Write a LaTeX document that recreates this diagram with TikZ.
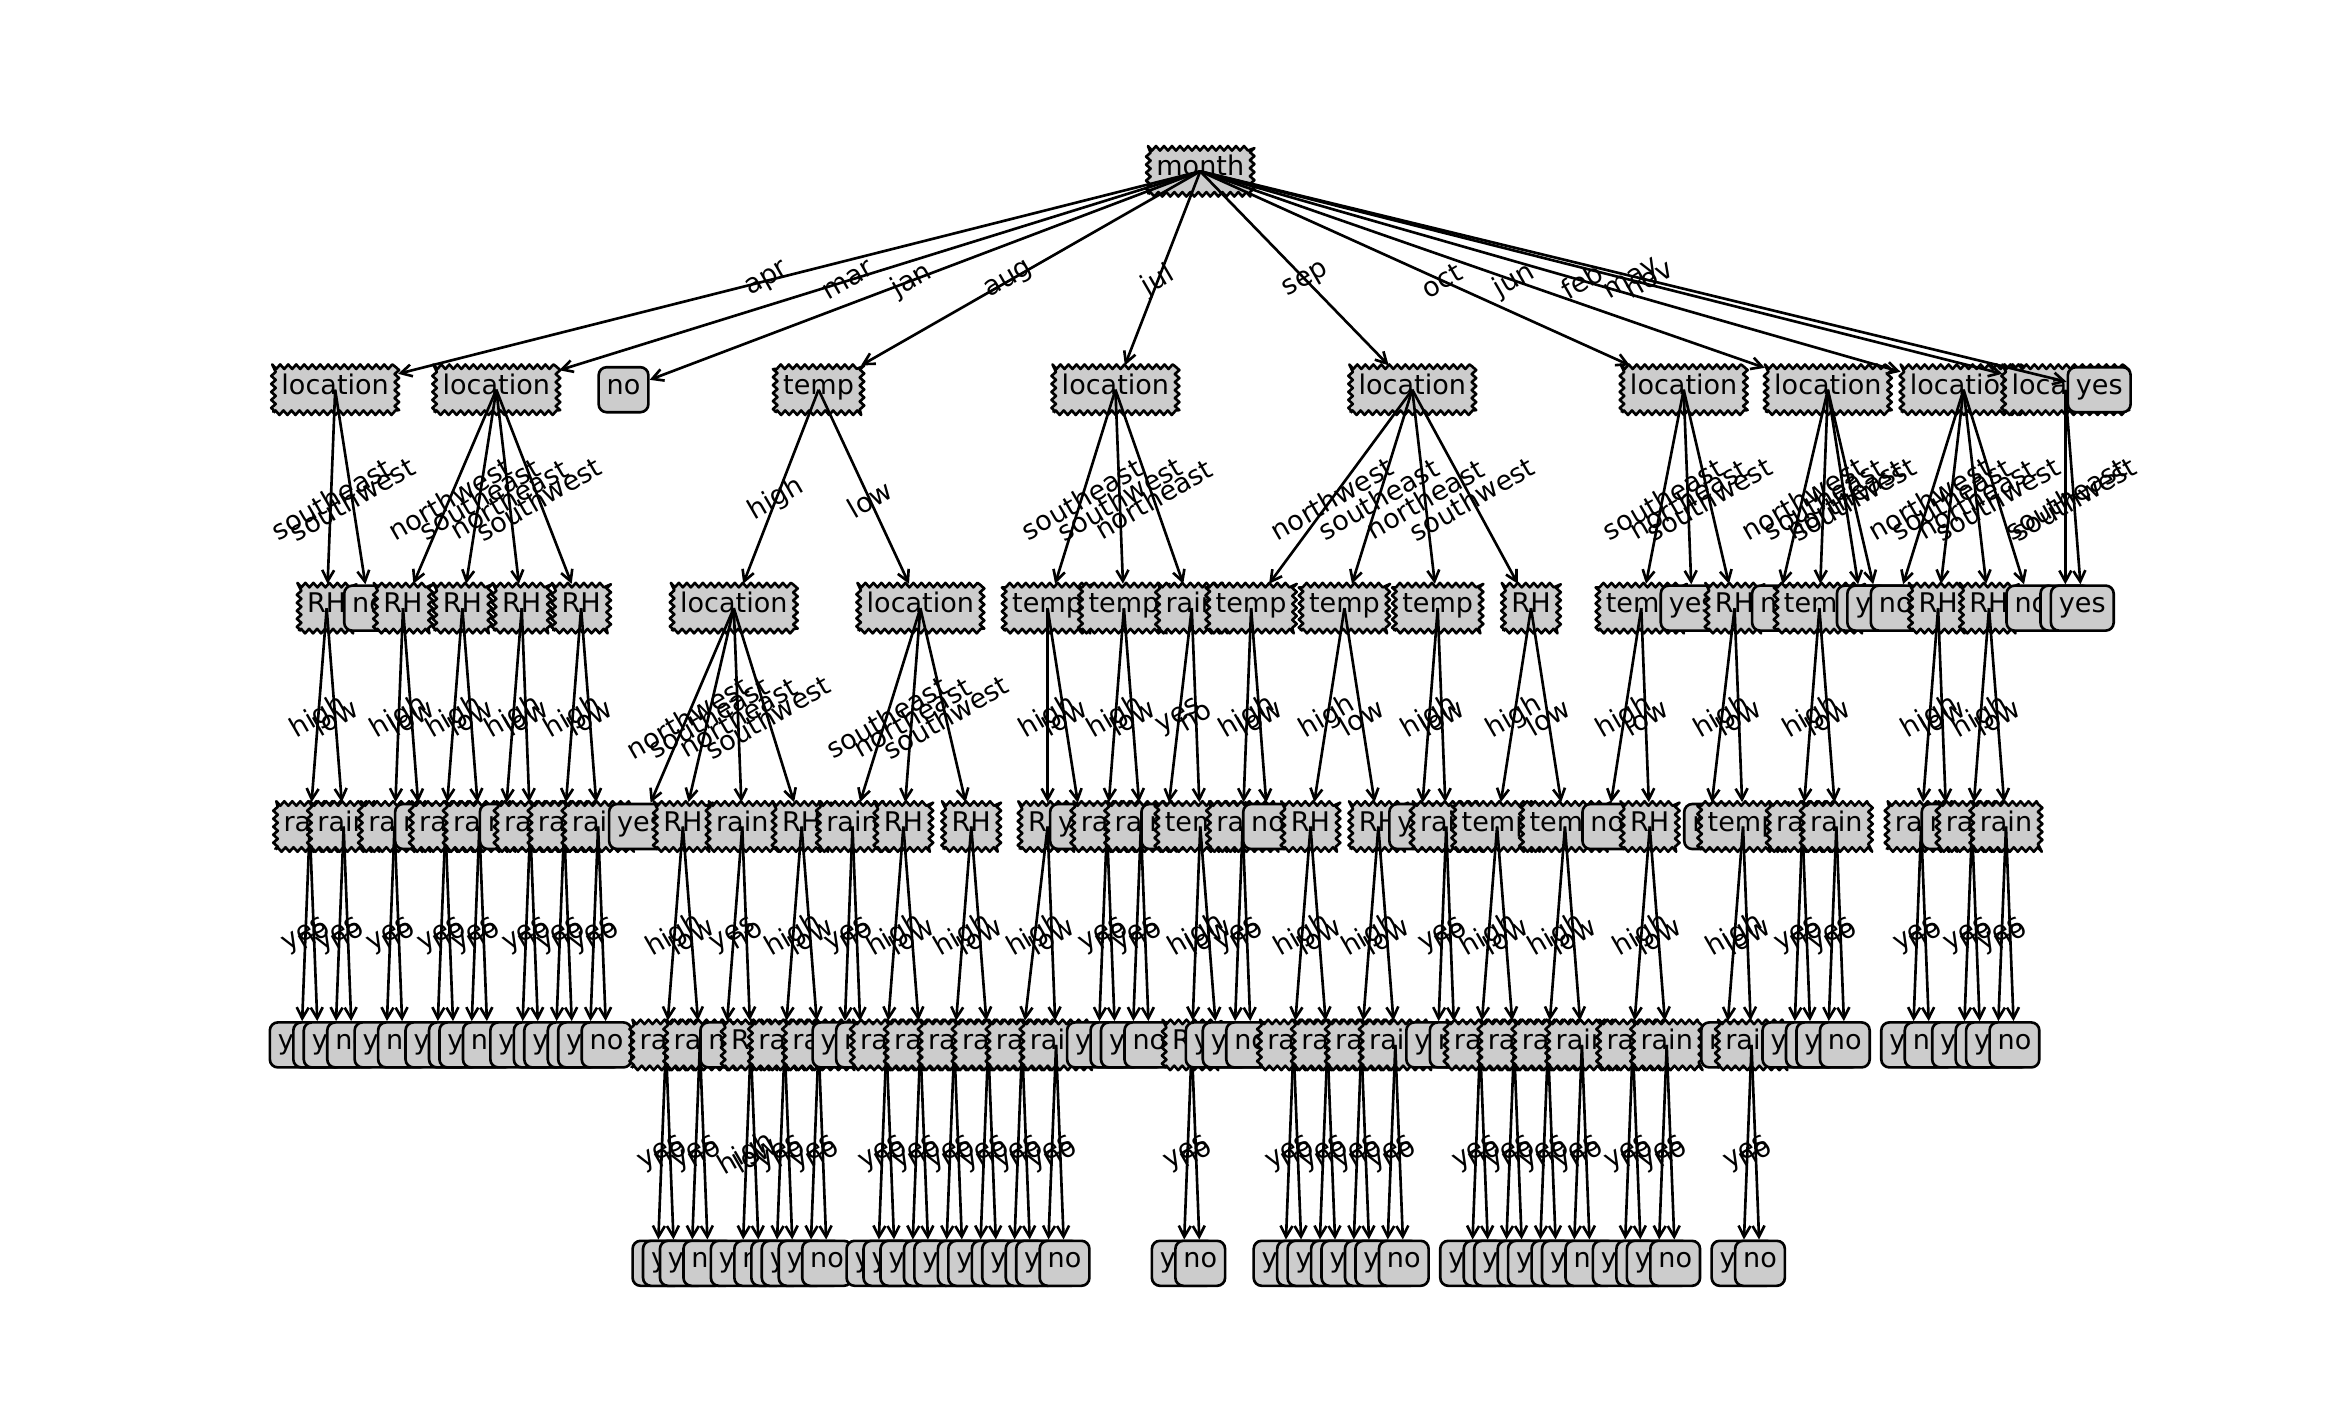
\documentclass[tikz,border=0pt]{standalone}
\usepackage{fontspec}
\setmainfont{DejaVu Sans}
\usetikzlibrary{arrows.meta,decorations.pathmorphing}
\newcommand{\treefont}{\fontsize{15.4pt}{18pt}\selectfont}
\tikzset{
  dec/.style={draw, fill=black!20, line width=1.5pt, line join=round, font=\treefont,
    inner xsep=1.6mm, inner ysep=0pt, minimum height=9.2mm,
    text height=0.76em, text depth=0.24em,
    decorate, decoration={zigzag, segment length=1.6mm, amplitude=0.45mm}},
  leaf/.style={draw, fill=black!20, line width=1.5pt, rounded corners=1.6mm,
    font=\treefont, inner xsep=1.6mm, inner ysep=0pt, minimum height=9mm,
    text height=0.76em, text depth=0.24em},
  link/.style={{Straight Barb[length=2.2mm,width=2.4mm]}-, line width=1.5pt},
  elabel/.style={font=\treefont, rotate=30, inner sep=0pt}
}
% parent, child, label
\newcommand{\branch}[3]{%
  \draw[link] (#2) -- (#1.center);
  \path (#1.center) -- node[elabel]{#3} (#2.center);}
% name, parent, x, row, text, label
\newcommand{\dnode}[6]{\node[dec] (#1) at (#3,#4) {#5}; \branch{#2}{#1}{#6}}
\newcommand{\lnode}[6]{\node[leaf] (#1) at (#3,#4) {#5}; \branch{#2}{#1}{#6}}
% rain node with two leaves: name, parent, x, row, label, yes-leaf, no-leaf
\newcommand{\rainpair}[7]{%
  \dnode{#1}{#2}{#3}{#4}{rain}{#5}%
  \pgfmathsetmacro{\leftx}{#3-0.5}\pgfmathsetmacro{\rightx}{#3+0.5}%
  \pgfmathtruncatemacro{\lowy}{#4+1}%
  \lnode{#1y}{#1}{\leftx}{\lowy}{#6}{yes}%
  \lnode{#1n}{#1}{\rightx}{\lowy}{#7}{no}}

\begin{document}
\begin{tikzpicture}[x=0.33925cm, y=-4.368cm]
\useasboundingbox (-5.855cm,3.426cm) rectangle (40.985cm,-24.934cm);

\node[dec] (m) at (53.5,0) {month};

% apr
\dnode{ap}{m}{2.5}{1}{location}{apr}
\dnode{apa}{ap}{2}{2}{RH}{southeast}
\rainpair{apaa}{apa}{1}{3}{high}{yes}{no}
\rainpair{apab}{apa}{3}{3}{low}{yes}{no}
\lnode{apb}{ap}{4.5}{2}{no}{southwest}

% mar
\dnode{mr}{m}{12}{1}{location}{mar}
\dnode{mra}{mr}{6.5}{2}{RH}{northwest}
\rainpair{mraa}{mra}{6}{3}{high}{yes}{no}
\lnode{mrab}{mra}{7.5}{3}{no}{low}
\dnode{mrb}{mr}{10}{2}{RH}{southeast}
\rainpair{mrba}{mrb}{9}{3}{high}{yes}{no}
\rainpair{mrbb}{mrb}{11}{3}{low}{yes}{no}
\dnode{mrc}{mr}{13.5}{2}{RH}{northeast}
\lnode{mrca}{mrc}{12.5}{3}{no}{high}
\rainpair{mrcb}{mrc}{14}{3}{low}{yes}{no}
\dnode{mrd}{mr}{17}{2}{RH}{southwest}
\rainpair{mrda}{mrd}{16}{3}{high}{yes}{no}
\rainpair{mrdb}{mrd}{18}{3}{low}{yes}{no}

% jan
\lnode{jn}{m}{19.5}{1}{no}{jan}

% aug
\dnode{au}{m}{31}{1}{temp}{aug}
\dnode{aua}{au}{26}{2}{location}{high}
\lnode{auaa}{aua}{20.5}{3}{yes}{northwest}
\dnode{auab}{aua}{23}{3}{RH}{southeast}
\rainpair{auaba}{auab}{22}{4}{high}{no}{yes}
\rainpair{auabb}{auab}{24}{4}{low}{yes}{no}
\dnode{auac}{aua}{26.5}{3}{rain}{northeast}
\lnode{auaca}{auac}{25.5}{4}{no}{yes}
\dnode{auacb}{auac}{27}{4}{RH}{no}
\lnode{auacba}{auacb}{26.5}{5}{yes}{high}
\lnode{auacbb}{auacb}{27.5}{5}{no}{low}
\dnode{auad}{aua}{30}{3}{RH}{southwest}
\rainpair{auada}{auad}{29}{4}{high}{no}{yes}
\rainpair{auadb}{auad}{31}{4}{low}{yes}{no}
\dnode{aub}{au}{37}{2}{location}{low}
\rainpair{auba}{aub}{33}{3}{southeast}{yes}{no}
\dnode{aubb}{aub}{36}{3}{RH}{northeast}
\rainpair{aubba}{aubb}{35}{4}{high}{yes}{yes}
\rainpair{aubbb}{aubb}{37}{4}{low}{yes}{no}
\dnode{aubc}{aub}{40}{3}{RH}{southwest}
\rainpair{aubca}{aubc}{39}{4}{high}{yes}{no}
\rainpair{aubcb}{aubc}{41}{4}{low}{yes}{no}

% jul
\dnode{jl}{m}{48.5}{1}{location}{jul}
\dnode{jla}{jl}{44.5}{2}{temp}{southeast}
\dnode{jlaa}{jla}{44.5}{3}{RH}{high}
\rainpair{jlaaa}{jlaa}{43}{4}{high}{yes}{no}
\rainpair{jlaab}{jlaa}{45}{4}{low}{yes}{no}
\lnode{jlab}{jla}{46.5}{3}{yes}{low}
\dnode{jlb}{jl}{49}{2}{temp}{southwest}
\rainpair{jlba}{jlb}{48}{3}{high}{yes}{no}
\rainpair{jlbb}{jlb}{50}{3}{low}{yes}{no}
\dnode{jlc}{jl}{53}{2}{rain}{northeast}
\lnode{jlca}{jlc}{51.5}{3}{no}{yes}
\dnode{jlcb}{jlc}{53.5}{3}{temp}{no}
\dnode{jlcba}{jlcb}{53}{4}{RH}{high}
\lnode{jlcbaa}{jlcba}{52.5}{5}{yes}{yes}
\lnode{jlcbab}{jlcba}{53.5}{5}{no}{no}
\lnode{jlcbb}{jlcb}{54.5}{4}{yes}{low}

% sep
\dnode{sp}{m}{66}{1}{location}{sep}
\dnode{spa}{sp}{56.5}{2}{temp}{northwest}
\rainpair{spaa}{spa}{56}{3}{high}{yes}{no}
\lnode{spab}{spa}{57.5}{3}{no}{low}
\dnode{spb}{sp}{62}{2}{temp}{southeast}
\dnode{spba}{spb}{60}{3}{RH}{high}
\rainpair{spbaa}{spba}{59}{4}{high}{yes}{no}
\rainpair{spbab}{spba}{61}{4}{low}{yes}{no}
\dnode{spbb}{spb}{64}{3}{RH}{low}
\rainpair{spbba}{spbb}{63}{4}{high}{yes}{no}
\rainpair{spbbb}{spbb}{65}{4}{low}{yes}{no}
\dnode{spc}{sp}{67.5}{2}{temp}{northeast}
\lnode{spca}{spc}{66.5}{3}{yes}{high}
\rainpair{spcb}{spc}{68}{3}{low}{yes}{no}
\dnode{spd}{sp}{73}{2}{RH}{southwest}
\dnode{spda}{spd}{71}{3}{temp}{high}
\rainpair{spdaa}{spda}{70}{4}{high}{yes}{no}
\rainpair{spdab}{spda}{72}{4}{low}{yes}{no}
\dnode{spdb}{spd}{75}{3}{temp}{low}
\rainpair{spdba}{spdb}{74}{4}{high}{yes}{no}
\rainpair{spdbb}{spdb}{76}{4}{low}{yes}{no}

% oct
\dnode{oc}{m}{82}{1}{location}{oct}
\dnode{oca}{oc}{79.5}{2}{temp}{southeast}
\lnode{ocaa}{oca}{77.5}{3}{no}{high}
\dnode{ocab}{oca}{80}{3}{RH}{low}
\rainpair{ocaba}{ocab}{79}{4}{high}{yes}{no}
\rainpair{ocabb}{ocab}{81}{4}{low}{yes}{no}
\lnode{ocb}{oc}{82.5}{2}{yes}{northeast}
\dnode{occ}{oc}{85}{2}{RH}{southwest}
\lnode{occa}{occ}{83.5}{3}{no}{high}
\dnode{occb}{occ}{85.5}{3}{temp}{low}
\lnode{occba}{occb}{84.5}{4}{no}{high}
\rainpair{occbb}{occb}{86}{4}{low}{yes}{no}

% jun
\dnode{ju}{m}{90.5}{1}{location}{jun}
\lnode{jua}{ju}{87.5}{2}{no}{northwest}
\dnode{jub}{ju}{90}{2}{temp}{southeast}
\rainpair{juba}{jub}{89}{3}{high}{yes}{no}
\rainpair{jubb}{jub}{91}{3}{low}{yes}{no}
\lnode{juc}{ju}{92.5}{2}{no}{northeast}
\lnode{jud}{ju}{93.5}{2}{yes}{southwest}

% feb
\dnode{fb}{m}{98.5}{1}{location}{feb}
\lnode{fba}{fb}{94.5}{2}{no}{northwest}
\dnode{fbb}{fb}{97}{2}{RH}{southeast}
\rainpair{fbba}{fbb}{96}{3}{high}{yes}{no}
\lnode{fbbb}{fbb}{97.5}{3}{no}{low}
\dnode{fbc}{fb}{100}{2}{RH}{northeast}
\rainpair{fbca}{fbc}{99}{3}{high}{yes}{no}
\rainpair{fbcb}{fbc}{101}{3}{low}{yes}{no}
\lnode{fbd}{fb}{102.5}{2}{no}{southwest}

% may, nov
\dnode{my}{m}{104.5}{1}{location}{may}
\lnode{mya}{my}{104.5}{2}{no}{southeast}
\lnode{myb}{my}{105.5}{2}{yes}{southwest}
\lnode{nv}{m}{106.5}{1}{yes}{nov}
\end{tikzpicture}
\end{document}
